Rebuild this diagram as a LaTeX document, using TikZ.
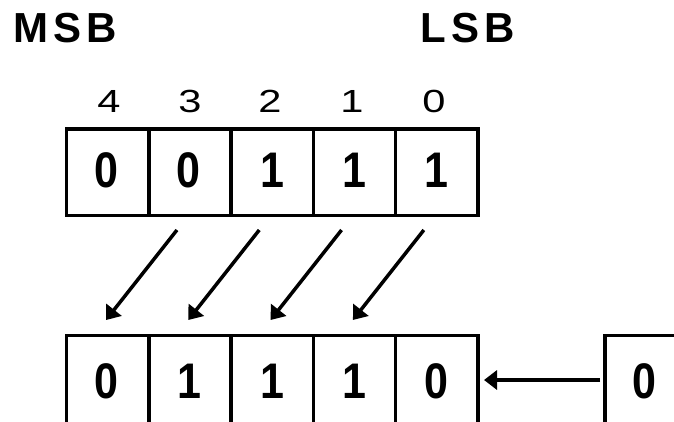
\documentclass[tikz,border=0pt]{standalone}
\usepackage{fontspec}
\setmainfont{Liberation Sans}
\usetikzlibrary{arrows.meta,calc}
\newcommand{\narrowdigit}[1]{\scalebox{0.86}[1]{#1}}
\begin{document}
\begin{tikzpicture}[x=1pt,y=-1pt,
  cellbox/.style={draw,line width=3.5pt,minimum width=82.3pt,inner sep=0pt,outer sep=0pt},
  topcell/.style={cellbox,minimum height=86.5pt},
  botcell/.style={cellbox,minimum height=104.5pt},
  digit/.style={inner sep=0pt,font=\fontsize{50}{50}\selectfont\bfseries},
  idx/.style={inner sep=0pt,font=\fontsize{32}{32}\selectfont},
  title/.style={inner sep=0pt,font=\fontsize{42}{42}\selectfont\bfseries},
  shiftarrow/.style={line width=3.5pt,-{Triangle[length=13pt,width=19pt]}}
]
\useasboundingbox (0,0) rectangle (674,421);
\clip (0,0) rectangle (674,421);

% titles
\node[title] (msb) at (65.5,28) {M\hspace{5pt}S\hspace{5pt}B};
\node[title] (lsb) at (467.5,28) {L\hspace{5pt}S\hspace{5pt}B};

% top register
\node[topcell] (t4) at (107.65,172.25) {};
\node[topcell] (t3) at (189.95,172.25) {};
\node[topcell] (t2) at (272.25,172.25) {};
\node[topcell] (t1) at (354.55,172.25) {};
\node[topcell] (t0) at (436.85,172.25) {};

\node[digit] (td4) at (106,170) {\narrowdigit{0}};
\node[digit] (td3) at (188,170) {\narrowdigit{0}};
\node[digit] (td2) at (272.25,170) {\narrowdigit{1}};
\node[digit] (td1) at (354.55,170) {\narrowdigit{1}};
\node[digit] (td0) at (436.85,170) {\narrowdigit{1}};

% bit indices
\node[idx] (l4) at (109,101.5) {\scalebox{1.3}[1]{4}};
\node[idx] (l3) at (190,101.5) {\scalebox{1.3}[1]{3}};
\node[idx] (l2) at (270,101.5) {\scalebox{1.3}[1]{2}};
\node[idx] (l1) at (352,101.5) {\scalebox{1.3}[1]{1}};
\node[idx] (l0) at (434,101.5) {\scalebox{1.3}[1]{0}};

% bottom register (open at the bottom, cut by the page edge)
\node[botcell] (b4) at (107.65,387.75) {};
\node[botcell] (b3) at (189.95,387.75) {};
\node[botcell] (b2) at (272.25,387.75) {};
\node[botcell] (b1) at (354.55,387.75) {};
\node[botcell] (b0) at (436.85,387.75) {};
\node[botcell] (r) at (646.15,387.75) {};

\node[digit] (bd4) at (106,381.5) {\narrowdigit{0}};
\node[digit] (bd3) at (189.95,381.5) {\narrowdigit{1}};
\node[digit] (bd2) at (272.25,381.5) {\narrowdigit{1}};
\node[digit] (bd1) at (354.55,381.5) {\narrowdigit{1}};
\node[digit] (bd0) at (436,381.5) {\narrowdigit{0}};
\node[digit] (rd) at (644.5,381.5) {\narrowdigit{0}};

% shift arrows
\draw[shiftarrow] ([xshift=-13pt,yshift=-14.5pt]t3.south) -- ([xshift=-1.65pt,yshift=15.5pt]b4.north);
\draw[shiftarrow] ([xshift=-13pt,yshift=-14.5pt]t2.south) -- ([xshift=-1.65pt,yshift=15.5pt]b3.north);
\draw[shiftarrow] ([xshift=-13pt,yshift=-14.5pt]t1.south) -- ([xshift=-1.65pt,yshift=15.5pt]b2.north);
\draw[shiftarrow] ([xshift=-13pt,yshift=-14.5pt]t0.south) -- ([xshift=-1.65pt,yshift=15.5pt]b1.north);

\draw[shiftarrow,line width=4pt] ([xshift=-5pt,yshift=7.75pt]r.west) -- ([xshift=6pt,yshift=7.75pt]b0.east);
\end{tikzpicture}
\end{document}
